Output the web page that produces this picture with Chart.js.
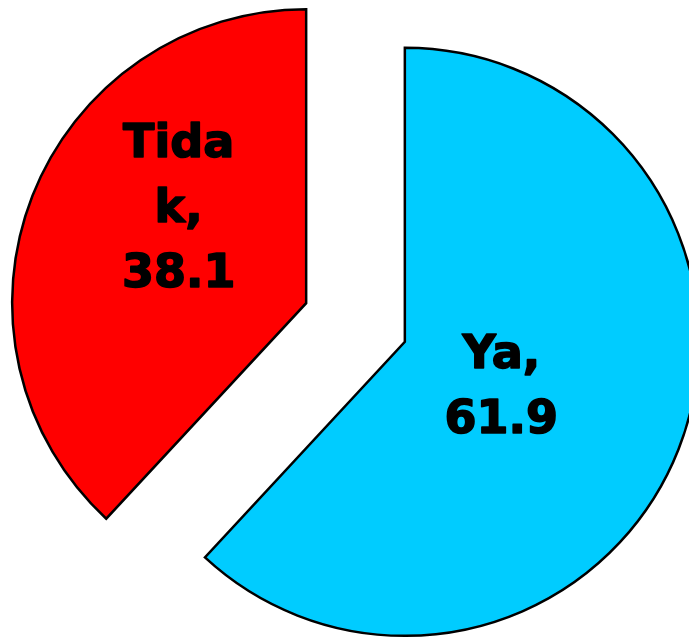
<!DOCTYPE html>
<html>
<head>
<meta charset="utf-8">
<script src="https://cdn.jsdelivr.net/npm/chart.js@4.4.0/dist/chart.umd.min.js"></script>
<style>
    html, body { margin: 0; padding: 0; background: #ffffff; }
    #wrap { width: 689px; height: 638px; position: relative; }
</style>
</head>
<body>
<div id="wrap"><canvas id="pieChart"></canvas></div>
<script>
// data
const categories = ["Ya", "Tidak"];
const values = [61.9, 38.1];
const sliceColors = ["#00CCFF", "#FF0000"];

// wraps a label by characters when it gets wider than maxWidth (like the original)
function wrapChars(ctx, text, maxWidth) {
    const lines = [];
    let line = "";
    for (const ch of text) {
        if (line && ctx.measureText(line + ch).width > maxWidth) {
            lines.push(line);
            line = ch;
        } else {
            line += ch;
        }
    }
    if (line) lines.push(line);
    return lines;
}

// Chart.js's own "offset" also grows the radius, so push each slice out here instead
const explode = {
    id: "explode",
    beforeDatasetDraw(chart, args, opts) {
        const ctx = chart.ctx;
        args.meta.data.forEach(function (arc) {
            const mid = (arc.startAngle + arc.endAngle) / 2;
            ctx.save();
            ctx.translate(Math.cos(mid) * opts.distance, Math.sin(mid) * opts.distance);
            arc.draw(ctx, chart.chartArea);
            ctx.restore();
        });
        return false;
    }
};

const sliceLabels = {
    id: "sliceLabels",
    afterDatasetsDraw(chart, args, opts) {
        const ctx = chart.ctx;
        const meta = chart.getDatasetMeta(0);
        ctx.save();
        ctx.font = "bold 46px 'DejaVu Sans', Verdana, sans-serif";
        ctx.fillStyle = "#000000";
        ctx.strokeStyle = "#000000";
        ctx.lineWidth = 1.6;
        ctx.lineJoin = "round";
        ctx.textAlign = "center";
        ctx.textBaseline = "alphabetic";
        meta.data.forEach(function (arc, i) {
            const pos = arc.tooltipPosition();
            const nudge = opts.nudge[i] || [0, 0];
            const cx = pos.x + nudge[0];
            const cy = pos.y + nudge[1];
            const lines = wrapChars(ctx, categories[i] + ",", 135);
            lines.push(values[i].toFixed(1));
            const lh = 65;
            const capH = 34;
            lines.forEach(function (ln, k) {
                const y = cy - (lines.length - 1) / 2 * lh + k * lh + capH / 2;
                ctx.fillText(ln, cx, y);
                ctx.strokeText(ln, cx, y);
            });
        });
        ctx.restore();
    }
};

const ctx = document.getElementById("pieChart").getContext("2d");
new Chart(ctx, {
    type: "pie",
    data: {
        labels: categories,
        datasets: [{
            data: values,
            backgroundColor: sliceColors,
            borderColor: "#000000",
            borderWidth: 2.5,
            borderJoinStyle: "miter",
            clip: false
        }]
    },
    options: {
        responsive: true,
        maintainAspectRatio: false,
        animation: false,
        radius: 294,
        layout: {
            padding: { left: 22, right: 0, top: 7, bottom: 0 }
        },
        plugins: {
            legend: { display: false },
            tooltip: { enabled: false },
            explode: { distance: 53 },
            sliceLabels: {
                nudge: [[9, 7], [-40, -64]]
            }
        }
    },
    plugins: [explode, sliceLabels]
});
</script>
</body>
</html>
